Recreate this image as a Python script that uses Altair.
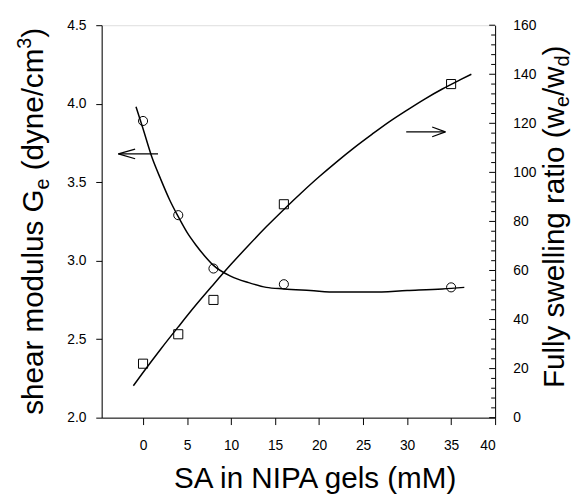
import altair as alt
import pandas as pd

# ---- data ----
sa = [0, 4, 8, 16, 35]
shear_modulus = [3.89, 3.29, 2.95, 2.85, 2.83]
swelling_ratio = [22, 34, 48, 87, 136]

# fitted curve through shear modulus points
fit_shear_x = [-0.8, 0, 1, 2, 3, 4, 5, 6, 7, 8, 10, 12, 14, 16, 19, 22, 26, 30, 34, 36.5]
fit_shear_y = [3.98, 3.84, 3.66, 3.52, 3.39, 3.28, 3.18, 3.10, 3.03, 2.97, 2.90, 2.86,
               2.83, 2.82, 2.81, 2.80, 2.80, 2.81, 2.82, 2.83]

# fitted curve through swelling-ratio points
fit_swell_x = [-1.1, 0, 2, 4, 6, 8, 10, 12, 14, 16, 18, 20, 22, 24, 26, 28, 30, 32, 34, 36, 37.3]
fit_swell_y = [13.0, 18.4, 27.9, 37.0, 45.9, 54.3, 62.5, 70.3, 77.8, 84.9, 91.7, 98.2,
               104.3, 110.1, 115.5, 120.7, 125.4, 129.9, 134.0, 137.7, 140.0]

# arrows (segments: shaft, two head strokes)
larrow_x = [-2.8, -2.8, -2.8]
larrow_x2 = [1.7, -0.9, -0.9]
larrow_y = [3.68, 3.68, 3.68]
larrow_y2 = [3.68, 3.711, 3.649]
rarrow_x = [29.9, 34.35, 34.35]
rarrow_x2 = [34.35, 32.85, 32.85]
rarrow_y = [116.5, 116.5, 116.5]
rarrow_y2 = [116.5, 118.5, 114.5]

x_ticks = [0, 5, 10, 15, 20, 25, 30, 35, 40]
left_ticks = [2.0, 2.5, 3.0, 3.5, 4.0, 4.5]
right_major = [0, 20, 40, 60, 80, 100, 120, 140, 160]
right_minor = [v for v in range(0, 161, 4) if v % 20 != 0]

FONT = "Liberation Sans"
W, H = 399, 398

xscale = alt.Scale(domain=[-4.7, 40], nice=False, zero=False)
lscale = alt.Scale(domain=[2.0, 4.5], nice=False, zero=False)
rscale = alt.Scale(domain=[0, 160], nice=False, zero=False)

x_axis = alt.Axis(values=x_ticks, title="SA in NIPA gels (mM)", grid=False,
                  tickSize=7, labelPadding=14, labelFontSize=14, labelFont=FONT,
                  labelColor="black", tickColor="black", domainColor="black",
                  titleFont=FONT, titleFontSize=30, titleFontWeight="normal",
                  titleColor="black", titleX=216, titleY=71, titleAlign="center",
                  titleBaseline="alphabetic", titleAnchor="start")
l_axis = alt.Axis(values=left_ticks, format=".1f", orient="left", title=None, grid=False,
                  tickSize=6, labelPadding=10, labelFontSize=14, labelFont=FONT,
                  labelColor="black", tickColor="black", domainColor="black")
r_axis = alt.Axis(values=right_major, orient="right", title=None, grid=False,
                  ticks=False, labelPadding=18, labelFontSize=14, labelFont=FONT,
                  labelColor="black", domainColor="black")


def X(field):
    return alt.X(field, type="quantitative", scale=xscale, axis=x_axis)


def LY(field):
    return alt.Y(field, type="quantitative", scale=lscale, axis=l_axis)


def RY(field):
    return alt.Y(field, type="quantitative", scale=rscale, axis=r_axis)


pts = pd.DataFrame({"sa": sa, "g": shear_modulus, "s": swelling_ratio})
fit_g = pd.DataFrame({"x": fit_shear_x, "y": fit_shear_y})
fit_s = pd.DataFrame({"x": fit_swell_x, "y": fit_swell_y})
la = pd.DataFrame({"x": larrow_x, "x2": larrow_x2, "y": larrow_y, "y2": larrow_y2})
ra = pd.DataFrame({"x": rarrow_x, "x2": rarrow_x2, "y": rarrow_y, "y2": rarrow_y2})
rmaj = pd.DataFrame({"t": right_major})
rmin = pd.DataFrame({"t": right_minor})

left = alt.layer(
    alt.Chart(fit_g).mark_line(color="black", strokeWidth=1.5, interpolate="monotone")
    .encode(x=X("x"), y=LY("y")),
    alt.Chart(pts).mark_point(shape="circle", filled=False, color="black", size=85, strokeWidth=1, opacity=1)
    .encode(x=X("sa"), y=LY("g")),
    alt.Chart(la).mark_rule(color="black", strokeWidth=1.2)
    .encode(x=X("x"), x2="x2", y=LY("y"), y2="y2"),
)

right = alt.layer(
    alt.Chart(fit_s).mark_line(color="black", strokeWidth=1.5, interpolate="monotone")
    .encode(x=X("x"), y=RY("y")),
    alt.Chart(pts).mark_point(shape="square", filled=False, color="black", size=85, strokeWidth=1, opacity=1)
    .encode(x=X("sa"), y=RY("s")),
    alt.Chart(ra).mark_rule(color="black", strokeWidth=1.2)
    .encode(x=X("x"), x2="x2", y=RY("y"), y2="y2"),
    alt.Chart(rmaj).mark_rule(color="black", strokeWidth=1)
    .encode(y=RY("t"), x=alt.value(W - 6), x2=alt.value(W)),
    alt.Chart(rmin).mark_rule(color="black", strokeWidth=1)
    .encode(y=RY("t"), x=alt.value(W - 4), x2=alt.value(W)),
)

one = pd.DataFrame({"k": [0]})


def piece(txt, px, py, fs):
    return alt.Chart(one).mark_text(
        text=txt, x=px, y=py, angle=270, align="left", baseline="alphabetic",
        font=FONT, fontSize=fs, color="black")


# y-axis titles with sub/superscripts (rotated, reading bottom to top)
lt = [
    ("shear modulus G", -59, 395, 30),
    ("e", -53, 166.6, 20),
    ("(dyne/cm", -59, 147.2, 30),
    ("3", -72, 23.8, 20),
    (")", -59, 12.7, 30),
]
rt = [
    ("Fully swelling ratio (w", 469, 368, 30),
    ("e", 474, 83, 20),
    ("/w", 469, 71.9, 30),
    ("d", 474, 41.9, 20),
    (")", 469, 30.8, 30),
]
titles = [piece(*p) for p in lt + rt]

chart = alt.layer(left, right, *titles).resolve_scale(y="independent").properties(
    width=W, height=H,
    padding={"left": 95, "top": 14, "right": 80, "bottom": 76},
    autosize=alt.AutoSizeParams(type="none"),
).configure_view(stroke="black", strokeWidth=1).configure(background="white")

chart.save("out.html", embed_options={"renderer": "svg", "actions": False})
